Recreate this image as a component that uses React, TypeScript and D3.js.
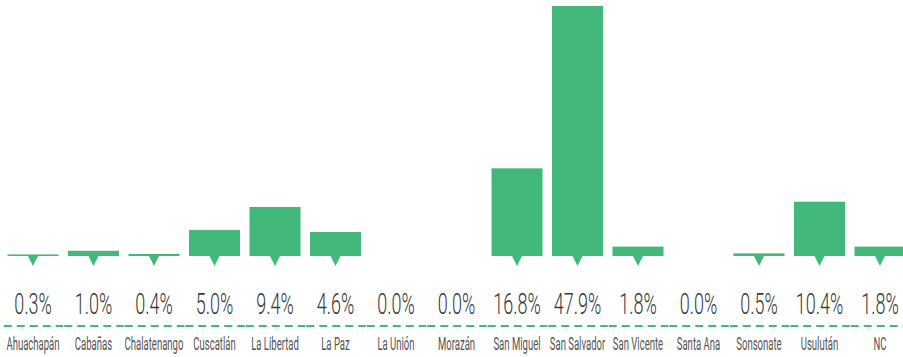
import React, { useEffect, useRef } from 'react';
import * as d3 from 'd3';

const departments = [
  'Ahuachapán', 'Cabañas', 'Chalatenango', 'Cuscatlán', 'La Libertad', 'La Paz', 'La Unión',
  'Morazán', 'San Miguel', 'San Salvador', 'San Vicente', 'Santa Ana', 'Sonsonate', 'Usulután', 'NC',
];
const shares = [0.3, 1.0, 0.4, 5.0, 9.4, 4.6, 0.0, 0.0, 16.8, 47.9, 1.8, 0.0, 0.5, 10.4, 1.8];

const App: React.FC = () => {
  const svgRef = useRef<SVGSVGElement>(null);

  useEffect(() => {
    if (!svgRef.current) return;
    const svg = d3.select(svgRef.current);
    svg.selectAll('*').remove();

    const green = '#42b97a';
    const baseY = 256;

    const x = d3.scaleBand<string>()
      .domain(departments)
      .range([2.75, 910.25])
      .paddingInner(0.157)
      .paddingOuter(0.0785);
    const y = d3.scaleLinear().domain([0, d3.max(shares) as number]).range([baseY, 6]);

    const rows = departments.map((d, i) => ({ name: d, v: shares[i] }));
    const cx = (d: string) => (x(d) as number) + x.bandwidth() / 2;

    // bars
    svg.selectAll('.bar').data(rows.filter(r => r.v > 0)).enter().append('rect')
      .attr('x', d => x(d.name) as number)
      .attr('y', d => y(d.v))
      .attr('width', x.bandwidth())
      .attr('height', d => baseY - y(d.v))
      .attr('fill', green);

    // pointer triangles under each bar
    svg.selectAll('.tri').data(rows.filter(r => r.v > 0)).enter().append('path')
      .attr('d', d => `M ${cx(d.name) - 5} ${baseY} L ${cx(d.name) + 5} ${baseY} L ${cx(d.name)} ${baseY + 10} Z`)
      .attr('fill', green);

    // value labels
    svg.selectAll('.val').data(rows).enter().append('text')
      .attr('transform', d => `translate(${cx(d.name)},314) scale(0.6,1)`)
      .attr('text-anchor', 'middle')
      .attr('font-family', 'Roboto, sans-serif')
      .attr('font-weight', 300)
      .attr('font-size', 30)
      .attr('fill', '#3a3a3a')
      .text(d => `${d.v.toFixed(1)}%`);

    // dashed separator, one segment per band
    const step = x.step();
    svg.selectAll('.dash').data(departments).enter().append('line')
      .attr('x1', d => cx(d) - step / 2 + 1)
      .attr('x2', d => cx(d) + step / 2)
      .attr('y1', 326)
      .attr('y2', 326)
      .attr('stroke', green)
      .attr('stroke-width', 2)
      .attr('stroke-dasharray', '8,5');

    // category labels
    svg.selectAll('.cat').data(departments).enter().append('text')
      .attr('transform', d => `translate(${cx(d)},350) scale(0.53,1)`)
      .attr('text-anchor', 'middle')
      .attr('font-family', 'Roboto, sans-serif')
      .attr('font-size', 18)
      .attr('fill', '#555')
      .text(d => d);
  }, []);

  return (
    <svg ref={svgRef} width={903} height={357}
      style={{ position: 'absolute', left: 0, top: 0, background: '#fff' }} />
  );
};

export default App;
